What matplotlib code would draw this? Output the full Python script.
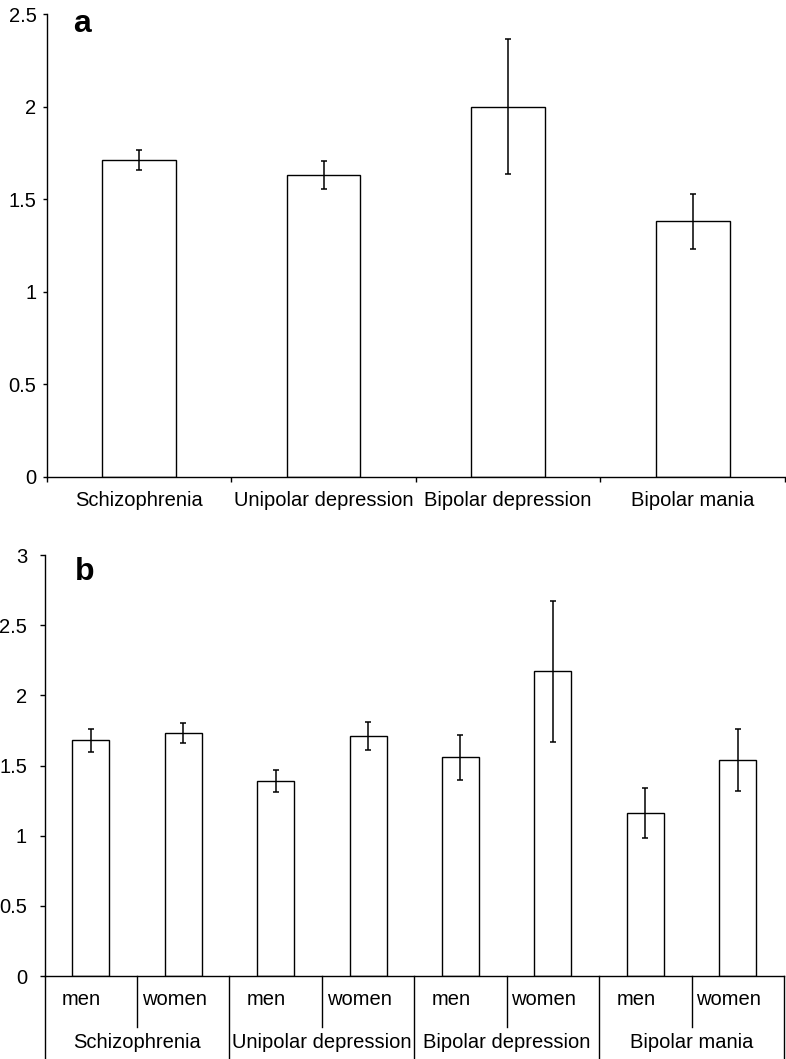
import numpy as np
import matplotlib.pyplot as plt
import matplotlib.transforms as mtransforms

plt.rcParams['font.family'] = ['Liberation Sans', 'DejaVu Sans']

# panel a
disorders = ['Schizophrenia', 'Unipolar depression', 'Bipolar depression', 'Bipolar mania']
mean_a = [1.71, 1.63, 2.00, 1.38]
err_a = [0.053, 0.075, 0.365, 0.15]
yticks_a = [0, 0.5, 1, 1.5, 2, 2.5]
ylabels_a = ['0', '0.5', '1', '1.5', '2', '2.5']

# panel b (men, women per disorder)
sexes = ['men', 'women']
mean_b = [1.68, 1.73, 1.39, 1.71, 1.56, 2.17, 1.16, 1.54]
err_b = [0.082, 0.071, 0.08, 0.10, 0.16, 0.50, 0.18, 0.22]
yticks_b = [0, 0.5, 1, 1.5, 2, 2.5, 3]
ylabels_b = ['0', '0.5', '1', '1.5', '2', '2.5', '3']

fs = 14.5
lw = 1.0

fig = plt.figure(figsize=(7.86, 10.59), dpi=100)
W, H = 786, 1059

def px_axes(x0, x1, ytop, ybot):
    return fig.add_axes([x0 / W, 1 - ybot / H, (x1 - x0) / W, (ybot - ytop) / H])

def style(ax):
    for s in ['top', 'right']:
        ax.spines[s].set_visible(False)
    for s in ['left', 'bottom']:
        ax.spines[s].set_linewidth(lw)
    ax.set_facecolor('none')

# ---- a ----
ax1 = px_axes(46.7, 785, 14, 476.7)
style(ax1)
x1 = np.arange(len(disorders))
ax1.bar(x1, mean_a, width=0.4, color='white', edgecolor='black', linewidth=lw)
ax1.errorbar(x1, mean_a, yerr=err_a, fmt='none', ecolor='black', elinewidth=1.1,
             capsize=2.2, capthick=1.1)
ax1.set_xlim(-0.5, len(disorders) - 0.5)
ax1.set_ylim(0, 2.5)
ax1.set_yticks(yticks_a)
ax1.set_yticklabels(ylabels_a, fontsize=fs)
ax1.tick_params(axis='y', length=3, width=lw, pad=4.3)
ax1.set_xticks(x1)
ax1.set_xticklabels(disorders, fontsize=fs)
ax1.tick_params(axis='x', which='major', length=0, pad=10)
ax1.set_xticks(np.arange(len(disorders) + 1) - 0.5, minor=True)
ax1.tick_params(axis='x', which='minor', length=3.6, width=lw)
ax1.text(0.048, 0.961, 'a', transform=ax1.transAxes, fontsize=23,
         fontweight='bold', ha='center', va='baseline')

# ---- b ----
ax2 = px_axes(44.5, 784, 555, 976)
style(ax2)
x2 = np.arange(len(mean_b))
ax2.bar(x2, mean_b, width=0.4, color='white', edgecolor='black', linewidth=lw)
ax2.errorbar(x2, mean_b, yerr=err_b, fmt='none', ecolor='black', elinewidth=1.1,
             capsize=2.2, capthick=1.1)
ax2.set_xlim(-0.5, len(mean_b) - 0.5)
ax2.set_ylim(0, 3)
ax2.set_yticks(yticks_b)
ax2.set_yticklabels(ylabels_b, fontsize=fs)
ax2.tick_params(axis='y', length=3.6, width=lw, pad=9)
ax2.set_xticks([])
ax2.text(0.054, 0.9406, 'b', transform=ax2.transAxes, fontsize=23,
         fontweight='bold', ha='center', va='baseline')

# multi-level category axis
trans = ax2.get_xaxis_transform()
axh = 976 - 555
shift = mtransforms.ScaledTranslation(-9 / 100, 0, fig.dpi_scale_trans)
for i, xv in enumerate(x2):
    ax2.text(xv, -29 / axh, sexes[i % 2], transform=trans + shift, fontsize=fs,
             ha='center', va='baseline')
for g, name in enumerate(disorders):
    ax2.text(2 * g + 0.5, -72 / axh, name, transform=trans, fontsize=fs,
             ha='center', va='baseline')
    ax2.plot([2 * g + 0.5] * 2, [0, -51 / axh], transform=trans, color='black',
             lw=lw, clip_on=False)
for b in np.arange(0, len(mean_b) + 1, 2) - 0.5:
    ax2.plot([b, b], [0, -90 / axh], transform=trans, color='black', lw=lw,
             clip_on=False)

fig.savefig('out.png', dpi=100)
